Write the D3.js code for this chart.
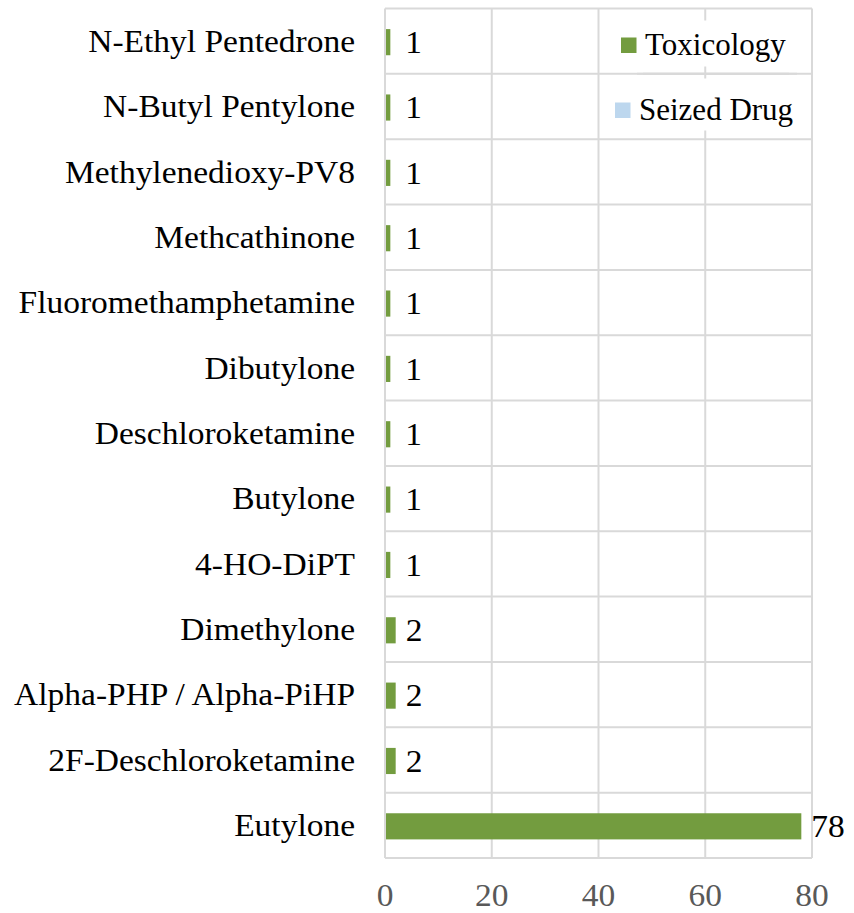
<!DOCTYPE html>
<html>
    <head>
        <script src="https://cdn.jsdelivr.net/npm/d3@7"></script>
        <style>
            body { margin: 0; background: #fff; }
            text { font-family: "Liberation Serif", "Times New Roman", serif; }
        </style>
    </head>
    <body>
        <svg id="chart" width="854" height="913"></svg>
        <script>
            // Data
            var categories = ["N-Ethyl Pentedrone", "N-Butyl Pentylone", "Methylenedioxy-PV8", "Methcathinone",
                "Fluoromethamphetamine", "Dibutylone", "Deschloroketamine", "Butylone", "4-HO-DiPT",
                "Dimethylone", "Alpha-PHP / Alpha-PiHP", "2F-Deschloroketamine", "Eutylone"];
            var toxicology = [1, 1, 1, 1, 1, 1, 1, 1, 1, 2, 2, 2, 78];
            var seizedDrug = [0, 0, 0, 0, 0, 0, 0, 0, 0, 0, 0, 0, 0];
            var xTicks = [0, 20, 40, 60, 80];
            var seriesNames = ["Toxicology", "Seized Drug"];
            var seriesColors = ["#739c3f", "#bdd7ee"];

            var margin = {left: 385, right: 42, top: 8.5, bottom: 55};
            var width = 854 - margin.left - margin.right;
            var height = 913 - margin.top - margin.bottom;
            var stretch = "scale(1.08,1)";

            var svg = d3.select("svg#chart").append("g")
                .attr("transform", "translate(" + margin.left + "," + margin.top + ")");

            var x = d3.scaleLinear().domain([0, 80]).range([0, width]);
            var y = d3.scaleBand().domain(categories).range([0, height]);

            // Grid lines
            svg.append("g").selectAll("line.v").data(xTicks).enter().append("line")
                .attr("x1", function(d) { return x(d); }).attr("x2", function(d) { return x(d); })
                .attr("y1", 0).attr("y2", height)
                .attr("stroke", "#d9d9d9").attr("stroke-width", 2);
            var bounds = categories.map(function(c) { return y(c); }).concat([height]);
            svg.append("g").selectAll("line.h").data(bounds).enter().append("line")
                .attr("x1", 0).attr("x2", width)
                .attr("y1", function(d) { return d; }).attr("y2", function(d) { return d; })
                .attr("stroke", "#d9d9d9").attr("stroke-width", 2);

            // Bars (Seized Drug has no non-zero values)
            var barH = y.bandwidth() * 0.4;
            svg.append("g").selectAll("rect").data(toxicology).enter().append("rect")
                .attr("x", x(0) + 1)
                .attr("y", function(d, i) { return y(categories[i]) + y.bandwidth() / 2 - barH / 2 + 1; })
                .attr("width", function(d) { return x(d) - x(0) - 1; })
                .attr("height", barH)
                .attr("fill", seriesColors[0]);

            // Value labels
            svg.append("g").selectAll("text").data(toxicology).enter().append("text")
                .attr("transform", function(d, i) {
                    return "translate(" + (x(d) + (d < 2 ? 15 : 10)) + "," + (y(categories[i]) + y.bandwidth() / 2 + 1) + ") " + stretch;
                })
                .attr("dy", "0.35em").style("font-size", "31px").attr("fill", "#000")
                .text(function(d) { return d; });

            // Category labels
            svg.append("g").selectAll("text").data(categories).enter().append("text")
                .attr("transform", function(d) {
                    return "translate(-30," + (y(d) + y.bandwidth() / 2) + ") " + stretch;
                })
                .attr("dy", "0.35em").attr("text-anchor", "end").style("font-size", "31px").attr("fill", "#000")
                .text(function(d) { return d; });

            // X tick labels
            svg.append("g").selectAll("text").data(xTicks).enter().append("text")
                .attr("transform", function(d) { return "translate(" + x(d) + "," + (height + 48) + ") " + stretch; })
                .attr("text-anchor", "middle").style("font-size", "31px").attr("fill", "#595959")
                .text(function(d) { return d; });

            // Legend
            var legend = [
                {name: seriesNames[0], color: seriesColors[0], sx: 236, sy: 29, tx: 260, ty: 46, bg: [258, 12, 146, 46]},
                {name: seriesNames[1], color: seriesColors[1], sx: 230, sy: 94, tx: 254, ty: 111, bg: [252, 70, 160, 52]}
            ];
            legend.forEach(function(l) {
                svg.append("rect").attr("x", l.bg[0]).attr("y", l.bg[1]).attr("width", l.bg[2]).attr("height", l.bg[3])
                    .attr("fill", "#fff");
                svg.append("line").attr("x1", l.bg[0]).attr("x2", l.bg[0] + l.bg[2])
                    .attr("y1", y(categories[1])).attr("y2", y(categories[1]))
                    .attr("stroke", "#d9d9d9").attr("stroke-width", 2);
                svg.append("rect").attr("x", l.sx).attr("y", l.sy).attr("width", 15.5).attr("height", 15.5)
                    .attr("fill", l.color);
                svg.append("text").attr("x", l.tx).attr("y", l.ty)
                    .style("font-size", "31px").attr("fill", "#000").text(l.name);
            });
        </script>
    </body>
</html>
